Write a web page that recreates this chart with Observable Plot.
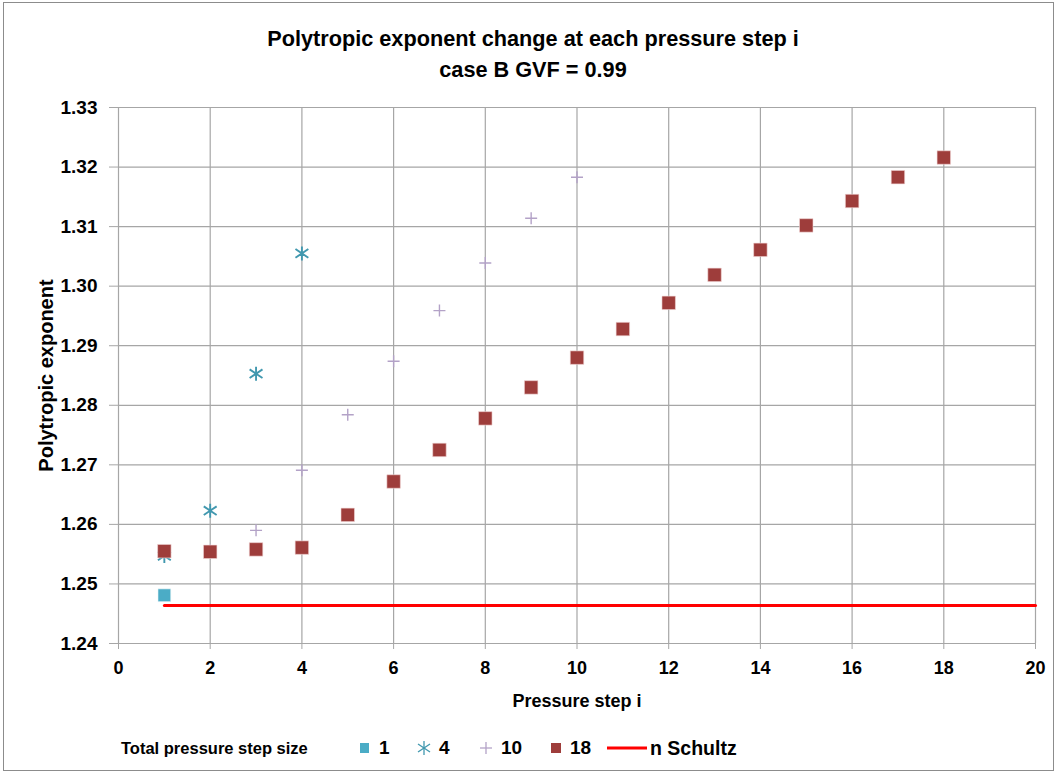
<!DOCTYPE html>
<html>
<head>
<meta charset="utf-8">
<script src="https://cdn.jsdelivr.net/npm/d3@7"></script>
<script src="https://cdn.jsdelivr.net/npm/@observablehq/plot@0.6"></script>
<style>
  html, body { margin: 0; padding: 0; background: #fff; }
  #wrap { position: relative; width: 1058px; height: 774px; overflow: hidden;
          font-family: "Liberation Sans", Arial, sans-serif; }
  #frame { position: absolute; left: 3px; top: 2px; width: 1051px; height: 769px;
           border: 1px solid #8c8c8c; box-sizing: border-box; }
  #title { position: absolute; left: 0; top: 23px; width: 1066px; text-align: center;
           font-weight: bold; font-size: 21.7px; line-height: 31px; color: #000; }
  #chart { position: absolute; left: 0; top: 80px; }
  #legend { position: absolute; left: 0; top: 735px; width: 1058px; height: 30px;
            font-weight: bold; color: #000; }
  #legend .it { position: absolute; top: 0; height: 26px; display: flex; align-items: center; }
</style>
</head>
<body>
<div id="wrap">
  <div id="frame"></div>
  <div id="title">Polytropic exponent change at each pressure step i<br>case B GVF = 0.99</div>
  <div id="chart"></div>
  <div id="legend"></div>
</div>
<script>
// ---- data ----
const steps18 = [1,2,3,4,5,6,7,8,9,10,11,12,13,14,15,16,17,18];
const n18 = [1.2555,1.2554,1.2558,1.2561,1.2616,1.2672,1.2725,1.2778,1.2830,1.2880,1.2928,1.2972,1.3019,1.3061,1.3102,1.3143,1.3183,1.3216];
const steps10 = [1,2,3,4,5,6,7,8,9,10];
const n10 = [1.2552,1.2556,1.2590,1.2691,1.2784,1.2874,1.2959,1.3039,1.3114,1.3183];
const steps4 = [1,2,3,4];
const n4 = [1.2547,1.2623,1.2853,1.3055];
const steps1 = [1];
const n1 = [1.2481];
const schultzX = [1, 20];
const schultzN = [1.2464, 1.2464];
const xTicks = [0,2,4,6,8,10,12,14,16,18,20];
const yTicks = [1.24,1.25,1.26,1.27,1.28,1.29,1.30,1.31,1.32,1.33];
const seriesNames = ["1","4","10","18"];
const legendTitle = "Total pressure  step size";
const lineName = "n Schultz";

const colors = { "1": "#4bacc6", "4": "#4198af", "10": "#b3a2c7", "18": "#9e3d3b", line: "#ff0000" };

const mk = (xs, ys) => xs.map((x, i) => ({x, y: ys[i]}));
const d1 = mk(steps1, n1), d4 = mk(steps4, n4), d10 = mk(steps10, n10), d18 = mk(steps18, n18);
const dl = mk(schultzX, schultzN);

// Excel-like star: X plus vertical bar
const starSymbol = {
  draw(context, size) {
    const r = Math.sqrt(size / Math.PI);
    const a = r * 0.92, b = r * 0.62;
    context.moveTo(0, -r); context.lineTo(0, r);
    context.moveTo(-a, -b); context.lineTo(a, b);
    context.moveTo(-a, b); context.lineTo(a, -b);
  }
};
const plusSymbol = {
  draw(context, size) {
    const r = Math.sqrt(size / Math.PI);
    context.moveTo(0, -r); context.lineTo(0, r);
    context.moveTo(-r, 0); context.lineTo(r, 0);
  }
};

const plot = Plot.plot({
  width: 1058,
  height: 650,
  marginTop: 27,
  marginBottom: 87,
  marginLeft: 118,
  marginRight: 23,
  style: { fontFamily: "'Liberation Sans', Arial, sans-serif", fontSize: "19px", color: "#000", background: "transparent", overflow: "visible" },
  x: { domain: [0, 20] },
  y: { domain: [1.24, 1.33] },
  marks: [
    Plot.ruleX(xTicks, { stroke: "#a6a6a6", strokeWidth: 1.2 }),
    Plot.ruleY(yTicks, { stroke: "#a6a6a6", strokeWidth: 1.2 }),
    Plot.axisY({ ticks: yTicks, tickFormat: d3.format(".2f"), tickSize: 9, tickPadding: 12,
                 stroke: "#a6a6a6", fontSize: 19, fontWeight: "bold",
                 label: "Polytropic exponent", labelAnchor: "center", labelArrow: "none", labelOffset: 80 }),
    Plot.axisX({ ticks: xTicks, tickFormat: d3.format("d"), tickSize: 6, tickPadding: 12,
                 stroke: "#a6a6a6", fontSize: 18, fontWeight: "bold",
                 label: "Pressure step i", labelAnchor: "center", labelArrow: "none", labelOffset: 63 }),
    Plot.line(dl, { x: "x", y: "y", stroke: colors.line, strokeWidth: 3 }),
    Plot.dot(d1, { x: "x", y: "y", symbol: "square", r: 7.2, fill: colors["1"], stroke: "#e6f3f7", strokeWidth: 0.6 }),
    Plot.dot(d10, { x: "x", y: "y", symbol: plusSymbol, r: 6, stroke: colors["10"], strokeWidth: 1.4 }),
    Plot.dot(d4, { x: "x", y: "y", symbol: starSymbol, r: 7, stroke: colors["4"], strokeWidth: 1.9 }),
    Plot.dot(d18, { x: "x", y: "y", symbol: "square", r: 7.6, fill: colors["18"], stroke: "#f2d6d6", strokeWidth: 0.6 })
  ]
});
plot.querySelectorAll("text").forEach(t => { t.setAttribute("font-weight", "bold"); t.setAttribute("fill", "#000"); });
// y-axis label slightly larger
plot.querySelectorAll("g[aria-label='y-axis label'] text").forEach(t => t.setAttribute("font-size", "20"));
document.getElementById("chart").appendChild(plot);

// ---- legend ----
const lg = document.getElementById("legend");
function addItem(left, html, text, fs) {
  const d = document.createElement("div");
  d.className = "it";
  d.style.left = left + "px";
  d.innerHTML = html + (text ? `<span style="font-size:${fs}px">${text}</span>` : "");
  lg.appendChild(d);
}
addItem(121, "", legendTitle, 16.5);
const sw = (inner, w) => `<svg width="${w}" height="22" style="margin-right:8px">${inner}</svg>`;
addItem(358, sw(`<rect x="2" y="6" width="9" height="10" fill="${colors["1"]}"/>`, 13), seriesNames[0], 19);
addItem(417, sw(`<g stroke="${colors["4"]}" stroke-width="1.3"><line x1="7" y1="4" x2="7" y2="18"/><line x1="1" y1="7" x2="13" y2="15"/><line x1="1" y1="15" x2="13" y2="7"/></g>`, 14), seriesNames[1], 19);
addItem(479, sw(`<g stroke="${colors["10"]}" stroke-width="1.3"><line x1="7" y1="5" x2="7" y2="17"/><line x1="1" y1="11" x2="13" y2="11"/></g>`, 14), seriesNames[2], 19);
addItem(549, sw(`<rect x="2" y="6" width="10" height="10" fill="${colors["18"]}"/>`, 13), seriesNames[3], 19);
addItem(607, `<svg width="42" height="22" style="margin-right:1px"><line x1="0" y1="11" x2="40" y2="11" stroke="${colors.line}" stroke-width="3"/></svg>`, lineName, 19.5);
</script>
</body>
</html>
